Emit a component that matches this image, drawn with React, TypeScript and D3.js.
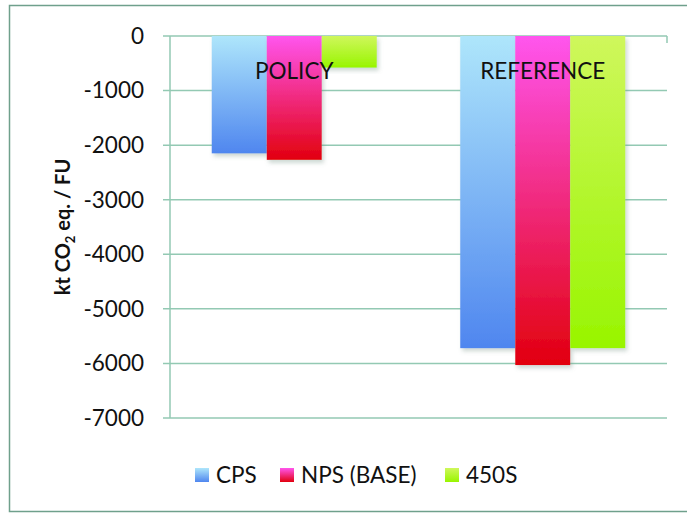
import { useEffect, useRef } from 'react';
import * as d3 from 'd3';

const groups = ['POLICY', 'REFERENCE'];
const series = ['CPS', 'NPS (BASE)', '450S'];
const cpsValues = [-2150, -5720];
const npsValues = [-2270, -6030];
const s450Values = [-580, -5720];
const yTicks = [0, -1000, -2000, -3000, -4000, -5000, -6000, -7000];

const seriesValues = [cpsValues, npsValues, s450Values];
const gradients = [
  ['#aee6fb', '#4f86ef'],
  ['#ff55ee', '#e2000e'],
  ['#cff75c', '#98f500'],
];

const W = 687;
const H = 513;

export default function App() {
  const svgRef = useRef<SVGSVGElement | null>(null);

  useEffect(() => {
    if (!svgRef.current) return;
    const svg = d3.select(svgRef.current);
    svg.selectAll('*').remove();

    const font = 'Lato, "Open Sans", sans-serif';
    const left = 170, right = 667, top = 36, bottom = 418;

    const defs = svg.append('defs');
    gradients.forEach((g, i) => {
      const lg = defs.append('linearGradient')
        .attr('id', `grad${i}`)
        .attr('x1', 0).attr('y1', 0).attr('x2', 0).attr('y2', 1);
      lg.append('stop').attr('offset', '0%').attr('stop-color', g[0]);
      lg.append('stop').attr('offset', '100%').attr('stop-color', g[1]);
    });
    const filter = defs.append('filter').attr('id', 'shadow')
      .attr('x', '-10%').attr('y', '-10%').attr('width', '130%').attr('height', '130%');
    filter.append('feDropShadow')
      .attr('dx', 2).attr('dy', 3).attr('stdDeviation', 2)
      .attr('flood-color', '#6f8f80').attr('flood-opacity', 0.35);

    svg.append('rect')
      .attr('x', 0).attr('y', 0).attr('width', W).attr('height', H)
      .attr('fill', '#fff');

    // outer frame
    svg.append('rect')
      .attr('x', 9.5).attr('y', 5.5).attr('width', 690).attr('height', 506)
      .attr('fill', 'none').attr('stroke', '#6fa08c').attr('stroke-width', 1.5);

    const y = d3.scaleLinear().domain([-7000, 0]).range([bottom, top]);
    const x0 = d3.scaleBand().domain(groups).range([left, right]).paddingInner(0).paddingOuter(0);
    const groupW = 165;
    const x1 = d3.scaleBand().domain(series).range([0, groupW]).padding(0);

    // gridlines
    const grid = svg.append('g');
    yTicks.forEach(t => {
      grid.append('line')
        .attr('x1', left - 7).attr('x2', right)
        .attr('y1', y(t)).attr('y2', y(t))
        .attr('stroke', '#93c9b3').attr('stroke-width', 1.5);
    });
    grid.append('line')
      .attr('x1', left).attr('x2', left)
      .attr('y1', top).attr('y2', bottom)
      .attr('stroke', '#93c9b3').attr('stroke-width', 1.5);
    grid.append('line')
      .attr('x1', right).attr('x2', right)
      .attr('y1', top).attr('y2', top + 7)
      .attr('stroke', '#93c9b3').attr('stroke-width', 1.5);

    // tick labels
    svg.append('g').selectAll('text')
      .data(yTicks)
      .enter()
      .append('text')
      .attr('x', left - 26)
      .attr('y', d => y(d))
      .attr('dy', '0.35em')
      .attr('text-anchor', 'end')
      .style('font-family', font)
      .style('font-size', '22.5px')
      .style('fill', '#111')
      .text(d => d3.format('d')(d).replace('−', '-'));

    // bars
    const bars = svg.append('g');
    groups.forEach((gName, gi) => {
      const gx = (x0(gName) || 0) + (x0.bandwidth() - groupW) / 2;
      series.forEach((s, si) => {
        const v = seriesValues[si][gi];
        bars.append('rect')
          .attr('x', gx + (x1(s) || 0))
          .attr('y', y(0))
          .attr('width', x1.bandwidth())
          .attr('height', y(v) - y(0))
          .attr('fill', `url(#grad${si})`)
          .attr('filter', 'url(#shadow)');
      });
    });

    // group labels
    svg.append('g').selectAll('text')
      .data(groups)
      .enter()
      .append('text')
      .attr('x', d => (x0(d) || 0) + x0.bandwidth() / 2)
      .attr('y', 71)
      .attr('dy', '0.35em')
      .attr('text-anchor', 'middle')
      .style('font-family', font)
      .style('font-size', '22.5px')
      .style('fill', '#111')
      .text(d => d);

    // y axis title
    const title = svg.append('text')
      .attr('transform', `translate(70,${(top + bottom) / 2}) rotate(-90)`)
      .attr('text-anchor', 'middle')
      .style('font-family', font)
      .style('font-size', '20px')
      .style('font-weight', 'bold')
      .style('fill', '#111');
    title.append('tspan').text('kt CO');
    title.append('tspan').attr('dy', 5).style('font-size', '13px').text('2');
    title.append('tspan').attr('dy', -5).text(' eq. / FU');

    // legend
    const legendX = [195, 280, 445];
    const legend = svg.append('g');
    series.forEach((s, i) => {
      const lg = legend.append('g').attr('transform', `translate(${legendX[i]},475)`);
      lg.append('rect')
        .attr('x', 0).attr('y', -7).attr('width', 14).attr('height', 14)
        .attr('fill', `url(#grad${i})`);
      lg.append('text')
        .attr('x', 21).attr('y', 0).attr('dy', '0.35em')
        .style('font-family', font)
        .style('font-size', '22.5px')
        .style('fill', '#111')
        .text(s);
    });
  }, []);

  return (
    <svg
      ref={svgRef}
      width={W}
      height={H}
      style={{ position: 'absolute', left: 0, top: 0, display: 'block' }}
    />
  );
}
